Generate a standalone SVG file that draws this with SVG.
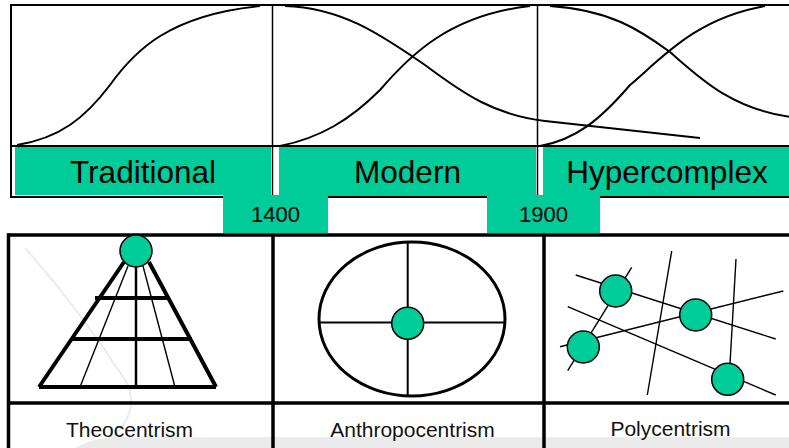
<svg xmlns="http://www.w3.org/2000/svg" width="789" height="448" viewBox="0 0 789 448">
<defs>
<style>
.frame{stroke:#000;stroke-width:2;fill:none}
.thin{stroke:#000;stroke-width:1.5;fill:none}
.curve{stroke:#000;stroke-width:2;fill:none}
.band{fill:#00CC99}
.big{font-family:"Liberation Sans",Arial,sans-serif;font-size:31.5px;fill:#000;text-anchor:middle}
.year{font-family:"Liberation Sans",Arial,sans-serif;font-size:22px;fill:#000;text-anchor:middle}
.lab{font-family:"Liberation Sans",Arial,sans-serif;font-size:21px;fill:#111;text-anchor:middle}
.grid{stroke:#000;stroke-width:3.5;fill:none}
.node{fill:#00CC99;stroke:#000;stroke-width:1.5}
.ln{stroke:#000;stroke-width:1.4;fill:none}
.thick{stroke:#000;stroke-width:4;fill:none}
</style>
</defs>
<rect width="789" height="448" fill="#fff"/>
<!-- watermark / background -->
<path d="M75,448 Q95,436 130,437 L789,437 L789,448 Z" fill="#ebebeb"/>
<path d="M25,248 Q80,310 125,380 Q145,415 100,448" fill="none" stroke="#ececec" stroke-width="2"/>

<!-- top chart -->
<g id="chart">
<rect class="band" x="15" y="147" width="256" height="48"/>
<rect class="band" x="279" y="147" width="257" height="49"/>
<rect class="band" x="543" y="147" width="246" height="49"/>
<line class="frame" x1="11" y1="5" x2="789" y2="5"/>
<line class="frame" x1="11" y1="4" x2="11" y2="198"/>
<line class="frame" x1="11" y1="146" x2="789" y2="146"/>
<line class="frame" x1="11" y1="197" x2="789" y2="197"/>
<line class="thin" x1="272.5" y1="5" x2="272.5" y2="195"/>
<line class="thin" x1="537.5" y1="5" x2="537.5" y2="195"/>
<path class="curve" d="M17,145 C60,138 85,118 110,85 C135,50 170,15 260,6"/>
<path class="curve" d="M280,146 C320,138 350,120 380,90 C410,55 450,15 530,6"/>
<path class="curve" d="M285,6 C345,8 385,38 425,65 C465,95 495,115 545,121 L700,138"/>
<path class="curve" d="M550,6 C610,10 640,30 670,52 C700,78 730,108 790,117"/>
<path class="curve" d="M540,146 C575,140 600,120 630,85 C660,60 695,18 765,6"/>
<rect class="band" x="223" y="195" width="105" height="38"/>
<rect class="band" x="487" y="195" width="113" height="38"/>
</g>
<g id="traditional"><text class="big" x="143" y="183">Traditional</text></g>
<g id="modern"><text class="big" x="407.5" y="183">Modern</text></g>
<g id="hypercomplex"><text class="big" x="667" y="183">Hypercomplex</text></g>
<g id="y1400"><text class="year" x="275.5" y="222">1400</text></g>
<g id="y1900"><text class="year" x="543.5" y="222">1900</text></g>

<!-- table -->
<g id="table">
<line class="grid" x1="7" y1="235" x2="789" y2="235"/>
<line class="grid" x1="8.5" y1="233.5" x2="8.5" y2="448"/>
<line class="grid" x1="273" y1="233.5" x2="273" y2="448"/>
<line class="grid" x1="544" y1="233.5" x2="544" y2="448"/>
<line class="grid" x1="7" y1="403" x2="789" y2="403"/>
</g>

<g id="theocentrism">
<path class="thick" d="M39,387 L216,387 M39,387 L124,262 M216,387 L149,262"/>
<line class="thick" x1="95" y1="298" x2="167" y2="298"/>
<line class="thick" x1="72" y1="339" x2="192" y2="339"/>
<line class="ln" x1="80" y1="387" x2="128" y2="266"/>
<line class="ln" x1="175" y1="387" x2="143" y2="266"/>
<line stroke="#000" stroke-width="2.5" x1="136" y1="265" x2="136" y2="387"/>
<circle class="node" cx="136" cy="251" r="16"/>
<text class="lab" x="129.5" y="437">Theocentrism</text>
</g>

<g id="anthropocentrism">
<ellipse cx="412" cy="319" rx="93" ry="77" fill="none" stroke="#000" stroke-width="3"/>
<line stroke="#000" stroke-width="2" x1="319" y1="322.5" x2="505" y2="322.5"/>
<line stroke="#000" stroke-width="2" x1="407.7" y1="242" x2="407.7" y2="396"/>
<circle class="node" cx="407.7" cy="323.3" r="16"/>
<text class="lab" x="412.5" y="437">Anthropocentrism</text>
</g>

<g id="polycentrism">
<line class="ln" x1="575.7" y1="275" x2="775.7" y2="339"/>
<line class="ln" x1="567.7" y1="306.7" x2="775.7" y2="395"/>
<line class="ln" x1="560" y1="346.7" x2="783.3" y2="291"/>
<line class="ln" x1="567.7" y1="370.7" x2="631.7" y2="267.3"/>
<line class="ln" x1="671.7" y1="251" x2="647.3" y2="395"/>
<line class="ln" x1="736" y1="259" x2="730" y2="364"/>
<circle class="node" cx="615.7" cy="291" r="16"/>
<circle class="node" cx="695.7" cy="315" r="16"/>
<circle class="node" cx="583.3" cy="347" r="16"/>
<circle class="node" cx="727.7" cy="379.3" r="16"/>
<text class="lab" x="670.5" y="436">Polycentrism</text>
</g>
</svg>
